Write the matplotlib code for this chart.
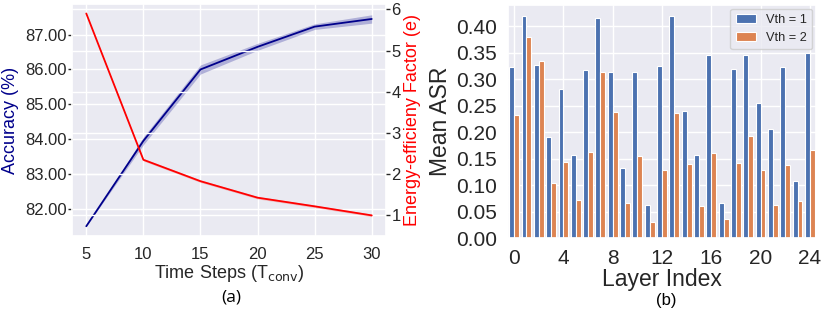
import numpy as np
import matplotlib
matplotlib.use("Agg")
import matplotlib.pyplot as plt
import seaborn as sns

# (a) accuracy / energy factor vs time steps
steps = [5, 10, 15, 20, 25, 30]
acc = [81.50, 83.95, 86.00, 86.65, 87.23, 87.45]
acc_ci = [0.0, 0.11, 0.13, 0.10, 0.08, 0.12]
energy = [5.90, 2.35, 1.83, 1.43, 1.22, 1.00]
energy_ci = [0.0, 0.03, 0.03, 0.03, 0.03, 0.03]

# (b) mean ASR per layer
layers = list(range(25))
asr_v1 = [0.322, 0.419, 0.327, 0.190, 0.281, 0.156, 0.318, 0.415, 0.314, 0.132,
          0.314, 0.063, 0.325, 0.419, 0.240, 0.156, 0.345, 0.067, 0.319, 0.345,
          0.255, 0.205, 0.323, 0.108, 0.350]
asr_v2 = [0.232, 0.379, 0.334, 0.104, 0.144, 0.072, 0.163, 0.313, 0.238, 0.067,
          0.154, 0.031, 0.129, 0.236, 0.139, 0.061, 0.161, 0.035, 0.141, 0.193,
          0.129, 0.062, 0.137, 0.070, 0.166]

sns.set_theme(style="darkgrid")
plt.rcParams['font.family'] = ['Liberation Sans', 'DejaVu Sans']
dark = "0.15"

fig = plt.figure(figsize=(8.3, 3.18), dpi=100)

# ---- panel (a)
ax1 = fig.add_axes([72 / 830, 1 - 236 / 318, 314 / 830, 232 / 318])
s = np.array(steps)
a = np.array(acc)
ac = np.array(acc_ci)
ax1.fill_between(s, a - ac, a + ac, color="darkblue", alpha=0.25, lw=0)
ax1.plot(s, a, color="darkblue", lw=1.3)
ax1.set_ylim(81.22, 87.88)
ax1.set_xlim(3.75, 31.25)
ax1.set_xticks(steps)
ax1.set_yticks([82, 83, 84, 85, 86, 87])
ax1.set_yticklabels(["%.2f" % v for v in [82, 83, 84, 85, 86, 87]])
ax1.tick_params(labelsize=12, colors=dark, pad=2)
ax1.tick_params(axis="y", left=True, length=3, width=1, pad=1)
ax1.set_ylabel("Accuracy (%)", color="darkblue", fontsize=13)
ax1.yaxis.set_label_coords(-0.168, 0.5)
ax1.set_xlabel(r"Time Steps (T$_{\mathrm{conv}}$)", color=dark, fontsize=13, labelpad=1)

ax2 = ax1.twinx()
e = np.array(energy)
ec = np.array(energy_ci)
ax2.fill_between(s, e - ec, e + ec, color="red", alpha=0.2, lw=0)
ax2.plot(s, e, color="red", lw=1.3)
ax2.set_ylim(0.5, 6.13)
ax2.set_yticks([1, 2, 3, 4, 5, 6])
ax2.tick_params(axis="y", labelsize=12, colors=dark, length=3, width=1, pad=1,
                direction="out", right=True)
ax2.set_ylabel("Energy-efficieny Factor (e)", color="red", fontsize=13)
ax2.yaxis.set_label_coords(1.057, 0.5)
for sp in ax2.spines.values():
    sp.set_visible(False)

fig.text(231 / 830, 1 - 298 / 318, "(a)", ha="center", va="center", fontsize=12.5,
         color="black", family=["Open Sans", "DejaVu Sans"])

# ---- panel (b)
ax3 = fig.add_axes([508 / 830, 1 - 238 / 318, 308 / 830, 233 / 318])
x = np.array(layers)
w = 0.4
ax3.bar(x - w / 2, asr_v1, width=w, color="#4C72B0", edgecolor="white", lw=0.8,
        label="Vth = 1")
ax3.bar(x + w / 2, asr_v2, width=w, color="#DD8452", edgecolor="white", lw=0.8,
        label="Vth = 2")
ax3.set_xlim(-0.5, 24.5)
ax3.set_ylim(0, 0.44)
ax3.set_xticks(range(0, 25, 4))
ax3.set_yticks(np.arange(0, 0.41, 0.05))
ax3.set_yticklabels(["%.2f" % v for v in np.arange(0, 0.41, 0.05)])
ax3.tick_params(labelsize=15, colors=dark, pad=2)
ax3.set_ylabel("Mean ASR", fontsize=16.5, color=dark, labelpad=3)
ax3.set_xlabel("Layer Index", fontsize=16.5, color=dark, labelpad=0)
ax3.legend(loc="upper right", fontsize=9.2, handlelength=1.6, borderaxespad=0.3)

fig.text(666 / 830, 1 - 300 / 318, "(b)", ha="center", va="center", fontsize=12,
         color="black")

fig.savefig("out.png", dpi=100)
